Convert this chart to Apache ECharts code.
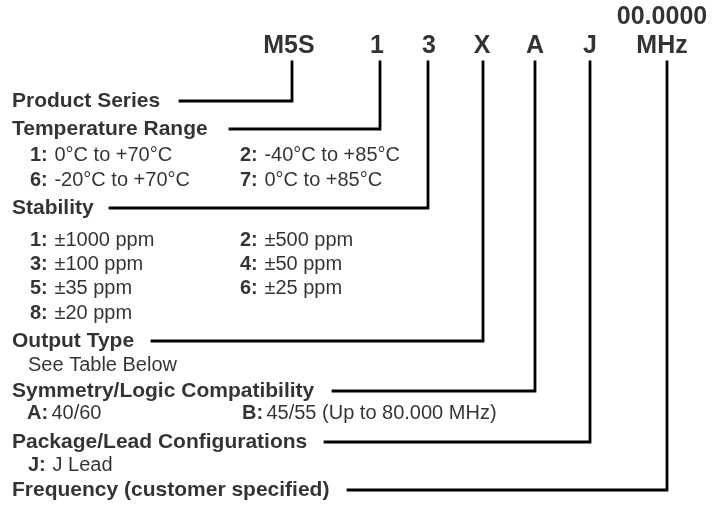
<!DOCTYPE html>
<html>
<head>
<meta charset="utf-8">
<script src="https://cdn.jsdelivr.net/npm/echarts@6/dist/echarts.min.js"></script>
<style>html,body{margin:0;padding:0;background:#fff}#c{width:725px;height:508px}</style>
</head>
<body>
<div id="c"></div>
<script>
// ---- content ----
const TOP_LABEL = '00.0000';
const CODES = ['M5S', '1', '3', 'X', 'A', 'J', 'MHz'];
const SECTIONS = ['Product Series', 'Temperature Range', 'Stability', 'Output Type',
  'Symmetry/Logic Compatibility', 'Package/Lead Configurations', 'Frequency (customer specified)'];
const TEMP_CODES = ['1', '2', '6', '7'];
const TEMP_VALUES = ['0°C to +70°C', '-40°C to +85°C', '-20°C to +70°C', '0°C to +85°C'];
const STAB_CODES = ['1', '2', '3', '4', '5', '6', '8'];
const STAB_VALUES = ['±1000 ppm', '±500 ppm', '±100 ppm', '±50 ppm', '±35 ppm', '±25 ppm', '±20 ppm'];
const OUTPUT_NOTE = 'See Table Below';
const SYM_CODES = ['A', 'B'];
const SYM_VALUES = ['40/60', '45/55 (Up to 80.000 MHz)'];
const PKG_CODES = ['J'];
const PKG_VALUES = ['J Lead'];

// ---- layout ----
const codeCenterX = [289, 377, 429, 482, 535, 590, 662];
const codeY = 46, topY = 17;
const leaderX = [292, 380, 428, 483, 535, 590, 667];
const leaderTop = 62;
const sectionY = [101, 129, 208, 341, 391, 442, 490];
const lineStartX = [180, 230, 110, 152, 333, 325, 348];
const textLeft = 12;
const col1X = 30, col2X = 240;
const tempRowY = [155, 155, 180, 180];
const stabRowY = [240, 240, 264, 264, 288, 288, 313];
const twoColX = (i) => (i % 2 === 0 ? col1X : col2X);
const noteX = 28, noteY = 365;
const symX = [27, 242], symY = 413;
const pkgX = [28], pkgY = 465;

const FONT = 'Liberation Sans, Arial, sans-serif';

const series = [];
// connectors
SECTIONS.forEach((s, i) => {
  series.push({
    type: 'line', silent: true, symbol: 'none', animation: false,
    lineStyle: { color: '#000', width: 2.8, cap: 'square', join: 'miter' },
    data: [[lineStartX[i], sectionY[i]], [leaderX[i], sectionY[i]], [leaderX[i], leaderTop]]
  });
});

function textSeries(points, labelOpt) {
  return {
    type: 'scatter', symbolSize: 0, silent: true, animation: false,
    data: points,
    label: Object.assign({ show: true, color: '#000', distance: 0 }, labelOpt)
  };
}

// code row
series.push(textSeries(CODES.map((c, i) => ({ value: [codeCenterX[i], codeY], name: c })), {
  position: 'inside', align: 'center', verticalAlign: 'middle',
  formatter: p => p.name, fontFamily: FONT, fontWeight: 'bold', fontSize: 25
}));
series.push(textSeries([{ value: [codeCenterX[6], topY], name: TOP_LABEL }], {
  position: 'inside', align: 'center', verticalAlign: 'middle',
  formatter: p => p.name, fontFamily: FONT, fontWeight: 'bold', fontSize: 25
}));
// section headings
series.push(textSeries(SECTIONS.map((s, i) => ({ value: [textLeft, sectionY[i]], name: s })), {
  position: 'right', align: 'left', verticalAlign: 'middle',
  formatter: p => p.name, fontFamily: FONT, fontWeight: 'bold', fontSize: 21
}));
// option lists
const rich = {
  k: { fontFamily: FONT, fontWeight: 'bold', fontSize: 20, color: '#000' },
  v: { fontFamily: FONT, fontSize: 20, color: '#000' }
};
const listLabel = { position: 'right', align: 'left', verticalAlign: 'middle', formatter: p => p.name, rich: rich };
series.push(textSeries(TEMP_CODES.map((c, i) => ({ value: [twoColX(i), tempRowY[i]], name: '{k|' + c + ':}  {v|' + TEMP_VALUES[i] + '}' })), listLabel));
series.push(textSeries(STAB_CODES.map((c, i) => ({ value: [twoColX(i), stabRowY[i]], name: '{k|' + c + ':}  {v|' + STAB_VALUES[i] + '}' })), listLabel));
series.push(textSeries([{ value: [noteX, noteY], name: '{v|' + OUTPUT_NOTE + '}' }], listLabel));
series.push(textSeries(SYM_CODES.map((c, i) => ({ value: [symX[i], symY], name: '{k|' + c + ':} {v|' + SYM_VALUES[i] + '}' })), listLabel));
series.push(textSeries(PKG_CODES.map((c, i) => ({ value: [pkgX[i], pkgY], name: '{k|' + c + ':}  {v|' + PKG_VALUES[i] + '}' })), listLabel));

const chart = echarts.init(document.getElementById('c'), null, { renderer: 'canvas' });
chart.setOption({
  animation: false,
  backgroundColor: '#fff',
  grid: { left: 0, right: 0, top: 0, bottom: 0 },
  xAxis: { type: 'value', min: 0, max: 725, show: false },
  yAxis: { type: 'value', min: 0, max: 508, inverse: true, show: false },
  series: series
});
</script>
</body>
</html>
